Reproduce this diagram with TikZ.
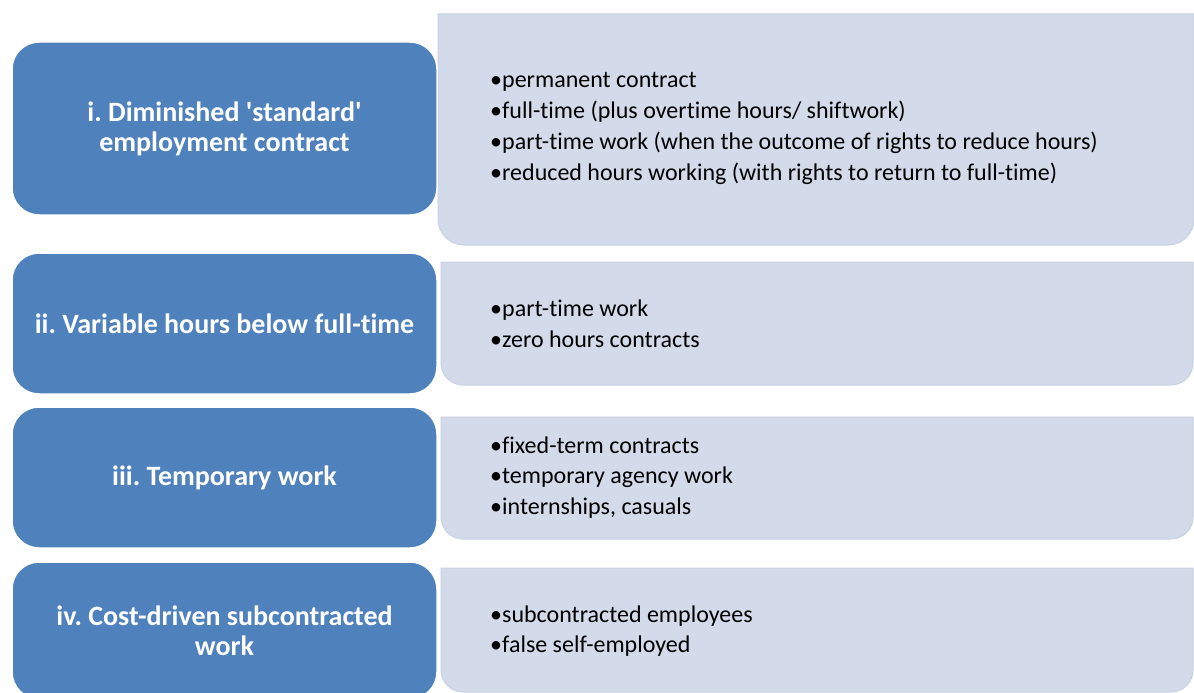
\documentclass[tikz,border=0pt]{standalone}
\usepackage{fontspec}
\setmainfont{Carlito}[Ligatures={TeX,NoCommon}]
\usepackage{xcolor}
\definecolor{catblue}{HTML}{4F81BD}
\definecolor{listgray}{HTML}{D3DAEA}
\definecolor{listedge}{HTML}{C9D1E3}
\tikzset{
	catbox/.style={fill=catblue, draw=white, line width=1.5pt, rounded corners=27pt},
	listbox/.style={fill=listgray, draw=listedge, line width=1pt},
	cattext/.style={text=white, font=\bfseries\fontsize{28}{30}\selectfont, align=center},
	listtext/.style={font=\fontsize{24}{30.7}\selectfont, align=left, anchor=west, inner sep=0pt}
}
\frenchspacing

\begin{document}
\begin{tikzpicture}[x=1pt,y=-1pt]
		\useasboundingbox (0,0) rectangle (1194,693);
		\clip (0,0) rectangle (1194,693);
		\fill[white] (0,0) rectangle (1194,693);
		\filldraw[listbox] (438,14)--(1194,14) [rounded corners=26pt]--(1194,245)--(438,245) [sharp corners]--cycle;
		\filldraw[listbox] (441,262)--(1193,262) [rounded corners=22pt]--(1193,385)--(441,385) [sharp corners]--cycle;
		\filldraw[listbox] (441,417)--(1193,417) [rounded corners=22pt]--(1193,539)--(441,539) [sharp corners]--cycle;
		\filldraw[listbox] (441,568)--(1193,568) [rounded corners=22pt]--(1193,692)--(441,692) [sharp corners]--cycle;
		\filldraw[catbox] (12,42) rectangle (437,215);
		\filldraw[catbox] (12,253) rectangle (437,394);
		\filldraw[catbox] (12,407) rectangle (437,548);
		\filldraw[catbox] (12,562) rectangle (437,699);
		\node[cattext] (cat1) at (224.5,128.5) {i. Diminished \textquotesingle standard\textquotesingle\\employment contract};
		\node[cattext] (cat2) at (224.5,323.5) {ii. Variable hours below full-time};
		\node[cattext] (cat3) at (224.5,477.5) {iii. Temporary work};
		\node[cattext] (cat4) at (224.5,631) {iv. Cost-driven subcontracted\\work};
		\node[listtext] (lst1) at (490,128.5) {•permanent contract\\•full-time (plus overtime hours/ shiftwork)\\•part-time work (when the outcome of rights to reduce hours)\\•reduced hours working (with rights to return to full-time)};
		\node[listtext] (lst2) at (490,323.5) {•part-time work\\•zero hours contracts};
		\node[listtext] (lst3) at (490,477.5) {•fixed-term contracts\\•temporary agency work\\•internships, casuals};
		\node[listtext] (lst4) at (490,631) {•subcontracted employees\\•false self-employed};
	\end{tikzpicture}
\end{document}
